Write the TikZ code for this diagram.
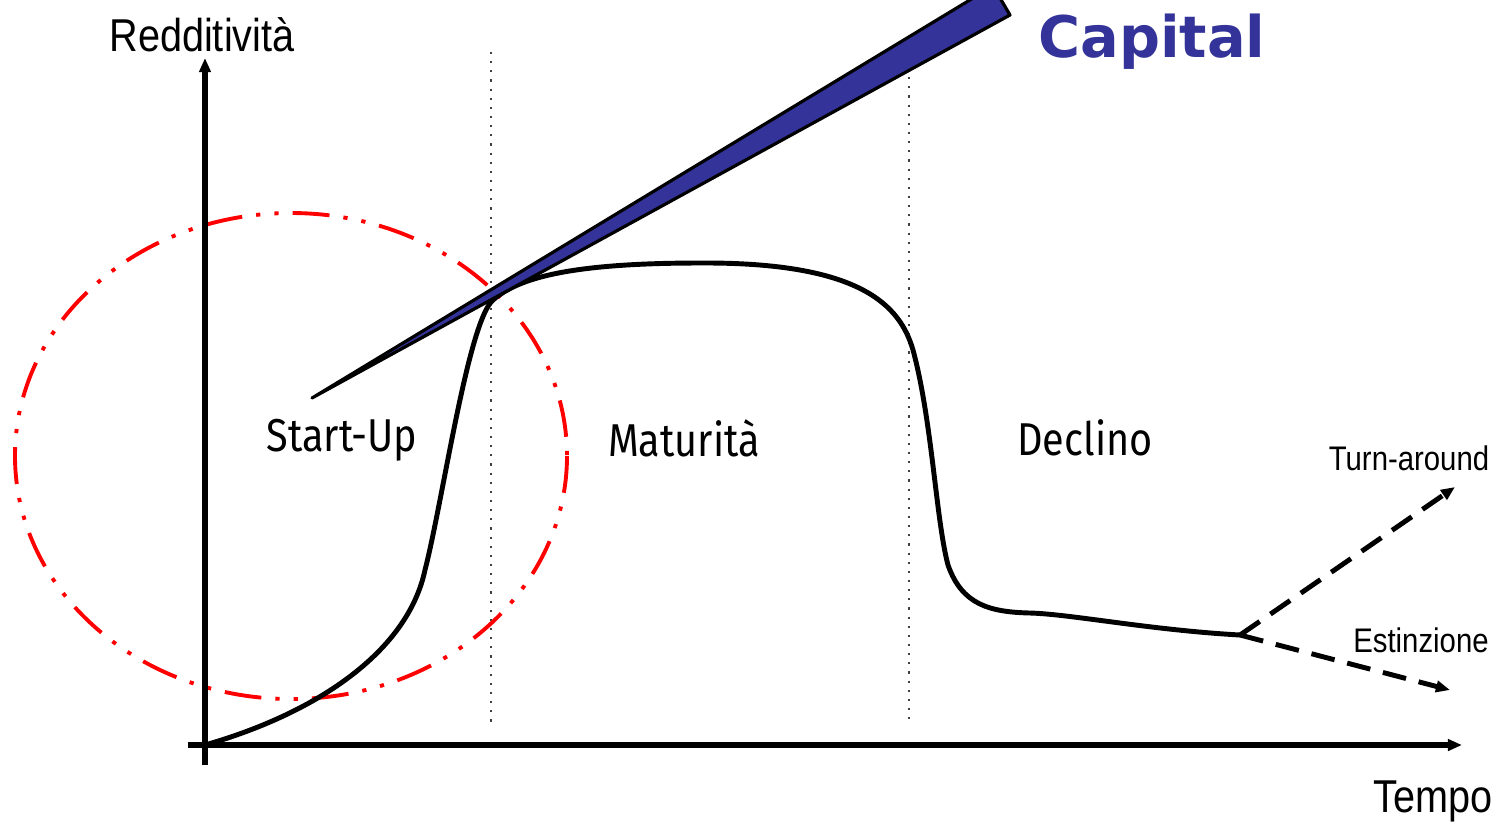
\documentclass[tikz,border=0pt]{standalone}
\usepackage{fontspec}
\setmainfont{Liberation Sans}
\newfontfamily\axisfont[FakeStretch=0.86]{Liberation Sans}
\newfontfamily\phasefont[FakeStretch=0.86]{Fira Sans}
\newfontfamily\capfont{DejaVu Sans}
\usepackage{tikz}
\usetikzlibrary{arrows.meta}
\definecolor{capBlue}{HTML}{333399}
\definecolor{ellRed}{HTML}{FF0000}
\tikzset{
  axislabel/.style={font=\axisfont\fontsize{13.1}{15}\selectfont, inner sep=0pt},
  exitlabel/.style={font=\axisfont\fontsize{9.7}{11}\selectfont, inner sep=0pt},
  phase/.style={font=\phasefont\fontsize{13.1}{15}\selectfont, inner sep=0pt},
  divider/.style={black!75, dotted, line width=0.6pt},
  exitpath/.style={->, dash pattern=on 6.8pt off 3.7pt, line width=1.4pt}
}

\begin{document}
\begin{tikzpicture}[x=0.01cm, y=-0.01cm, >={Triangle[length=4pt,width=3.2pt]}]
\useasboundingbox (0,0) rectangle (1499,823);
\clip (0,0) rectangle (1499,823);
% ---- phase dividers ----
\draw[divider] (491,52) -- (491,722);
\draw[divider] (909,68) -- (909,722);
% ---- start-up focus ----
\draw[ellRed, line width=1.1pt,
  dash pattern=on 10.5pt off 4pt on 1.2pt off 4pt on 1.2pt off 4pt]
  (291,456) ellipse [x radius=276, y radius=243];
% ---- life cycle curve ----
\draw[line width=1.4pt, line join=round]
  (205,745) .. controls (320,712) and (408,650) .. (425,570)
            .. controls (443,500) and (468,322) .. (493,300)
            .. controls (518,278) and (570,263) .. (700,263)
            .. controls (860,262) and (900,305) .. (913,350)
            .. controls (932,420) and (936,520) .. (948,565)
            .. controls (962,605) and (990,612) .. (1030,613)
            .. controls (1070,614) and (1150,630) .. (1240,635);
\coordinate (fork) at (1240,635);
\coordinate (upEnd) at (1455,487);
\coordinate (downEnd) at (1450,690);
\draw[exitpath] (fork) -- (upEnd);
\draw[exitpath] (fork) -- (downEnd);
% ---- capital wedge ----
\filldraw[fill=capBlue, draw=black, line width=0.9pt, line join=round]
  (312,398) -- (1010,15) -- (993,-14) -- cycle;
% ---- axes ----
\coordinate (orig) at (205,745);
\coordinate (xEnd) at (1462,745);
\coordinate (yEnd) at (205,58);
\draw[line width=1.6pt, ->] (188,745) -- (xEnd);
\draw[line width=1.5pt, ->] (205,765) -- (yEnd);
% ---- labels ----
\node[axislabel] (yLab) at (202,35) {Redditività};
\node[axislabel] (xLab) at (1433,801) {Tempo};
\node[phase] (startup) at (342,440) {Start-Up};
\node[phase] (maturity) at (684,438) {Maturità};
\node[phase] (decline) at (1085,438) {Declino};
\node[exitlabel] (turn) at (1409,458) {Turn-around};
\node[exitlabel] (extinct) at (1421,640) {Estinzione};
\node[font=\capfont\bfseries\fontsize{16.3}{19}\selectfont, text=capBlue, inner sep=0pt]
  (capital) at (1152,42) {Capital};
\end{tikzpicture}
\end{document}
